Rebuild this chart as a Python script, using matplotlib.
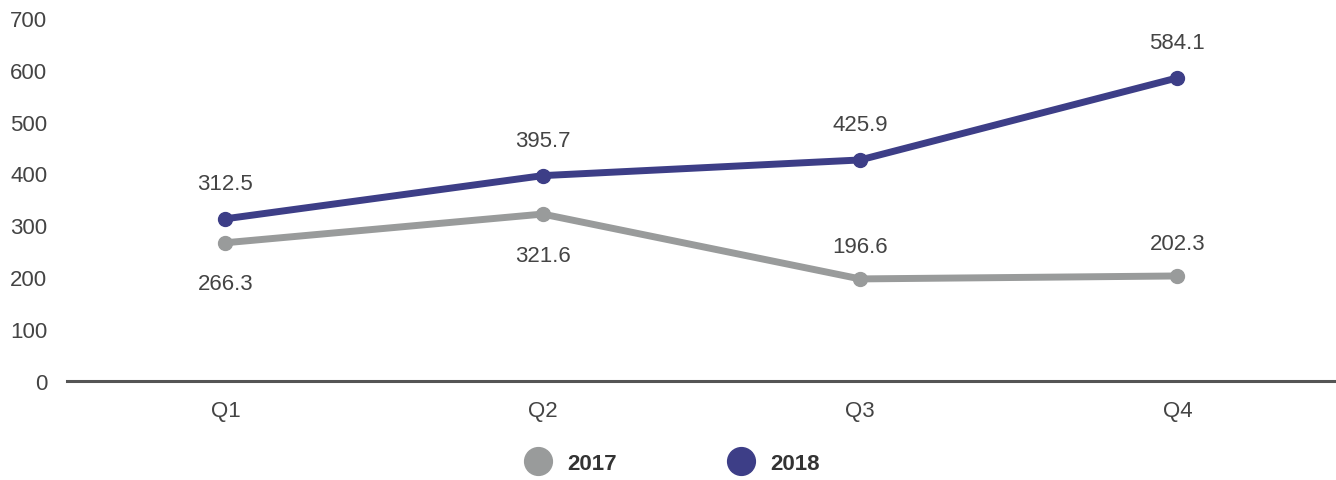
import matplotlib.pyplot as plt
from matplotlib.lines import Line2D

plt.rcParams['font.family'] = ['Liberation Sans', 'DejaVu Sans']

# Quarterly values
quarters = ["Q1", "Q2", "Q3", "Q4"]
values_2017 = [266.3, 321.6, 196.6, 202.3]
values_2018 = [312.5, 395.7, 425.9, 584.1]
# label placement for 2017 series: below except where it would clash
above_2017 = [False, False, True, True]

grey = "#999b9b"
navy = "#3d3e87"
text_col = "#444444"

fig = plt.figure(figsize=(13.36, 4.81), dpi=100)
ax = fig.add_axes([0.050, 0.206, 0.950, 0.755])

x = range(len(quarters))
ax.plot(x, values_2017, color=grey, lw=5, marker="o", ms=10, solid_capstyle="round")
ax.plot(x, values_2018, color=navy, lw=5, marker="o", ms=10, solid_capstyle="round")

for i, v in enumerate(values_2018):
    ax.annotate(f"{v:.1f}", (i, v), xytext=(0, 18), textcoords="offset points",
                ha="center", va="bottom", fontsize=16, color=text_col)
for i, v in enumerate(values_2017):
    if above_2017[i]:
        ax.annotate(f"{v:.1f}", (i, v), xytext=(0, 16), textcoords="offset points",
                    ha="center", va="bottom", fontsize=16, color=text_col)
    else:
        ax.annotate(f"{v:.1f}", (i, v), xytext=(0, -22), textcoords="offset points",
                    ha="center", va="top", fontsize=16, color=text_col)

ax.set_xlim(-0.5, 3.5)
ax.set_ylim(0, 700)
ax.set_yticks(range(0, 701, 100))
ax.set_xticks(list(x))
ax.set_xticklabels(quarters)
ax.tick_params(axis="both", length=0, labelsize=16, labelcolor=text_col)
ax.tick_params(axis="y", pad=14)
ax.tick_params(axis="x", pad=14)

for s in ["top", "right", "left"]:
    ax.spines[s].set_visible(False)
ax.spines["bottom"].set_color("#555555")
ax.spines["bottom"].set_linewidth(2.2)

handles = [
    Line2D([], [], ls="none", marker="o", ms=20, color=grey, label="2017"),
    Line2D([], [], ls="none", marker="o", ms=20, color=navy, label="2018"),
]
leg = fig.legend(handles=handles, loc="center", bbox_to_anchor=(0.5, 0.035), ncol=2,
                 frameon=False, handletextpad=0.3, columnspacing=4.6,
                 prop={"size": 16, "weight": "bold"})
for t in leg.get_texts():
    t.set_color("#333333")

fig.savefig("out.png", dpi=100)
